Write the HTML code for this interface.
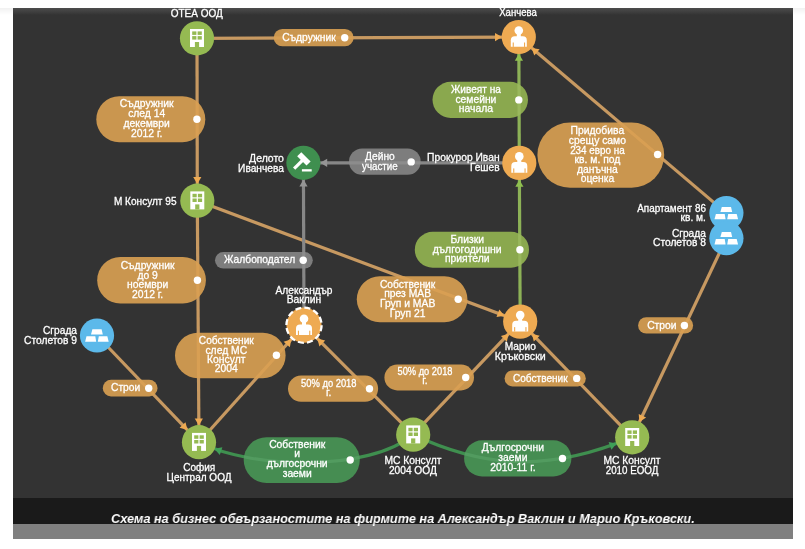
<!DOCTYPE html>
<html><head><meta charset="utf-8"><title>Схема</title>
<style>
html,body{margin:0;padding:0;background:#fff;}
body{width:805px;height:549px;position:relative;overflow:hidden;font-family:"Liberation Sans",sans-serif;}
#dia{position:absolute;left:13px;top:8px;width:780px;height:490px;background:#333333;overflow:hidden;}
#dia:before{content:"";position:absolute;left:0;top:0;right:0;height:7px;background:linear-gradient(#4d4d4d,#333333);}
#cap{position:absolute;left:13px;top:498px;width:780px;height:26px;background:#1a1a1a;}
#bar{position:absolute;left:13px;top:524px;width:780px;height:15px;background:#808080;}
#ct{position:absolute;left:111px;top:511.2px;white-space:nowrap;will-change:transform;color:#fff;font:italic bold 13.7px "Liberation Sans",sans-serif;line-height:16px;transform:scaleX(0.928);transform-origin:0 0;}
svg{position:absolute;left:0;top:0;will-change:transform;}
svg text{font-family:"Liberation Sans",sans-serif;font-size:11px;fill:#fff;stroke:#fff;stroke-width:0.3px;}
.ln{stroke-width:3.2;fill:none;}
#wrap{position:absolute;left:0;top:0;width:805px;height:549px;}
</style></head><body>
<div id="wrap">
<div style="position:absolute;left:0;top:8px;width:805px;height:7px;background:linear-gradient(#f1f1f1,#ffffff);"></div>
<div id="dia"></div>
<div id="cap"></div><div id="bar"></div>
<svg width="805" height="549" viewBox="0 0 805 549">
<defs>
<clipPath id="c"><rect x="13" y="8" width="780" height="490"/></clipPath>
<clipPath id="pc">
<rect x="273.7" y="29.1" width="79.9" height="17.1" rx="8.6"/>
<rect x="96.3" y="96.3" width="109.0" height="45.9" rx="22.9"/>
<rect x="97.2" y="257.1" width="108.7" height="46.3" rx="23.1"/>
<rect x="349.0" y="148.5" width="71.7" height="26.3" rx="13.2"/>
<rect x="215.0" y="252.1" width="97.8" height="16.5" rx="8.3"/>
<rect x="432.5" y="81.8" width="95.5" height="36.1" rx="18.1"/>
<rect x="414.8" y="231.8" width="114.2" height="35.9" rx="17.9"/>
<rect x="537.4" y="122.4" width="126.8" height="65.3" rx="32.6"/>
<rect x="356.8" y="276.3" width="110.6" height="46.0" rx="23.0"/>
<rect x="175.0" y="332.7" width="110.6" height="45.6" rx="22.8"/>
<rect x="288.0" y="375.6" width="90.1" height="26.1" rx="13.0"/>
<rect x="384.4" y="364.6" width="89.6" height="25.8" rx="12.9"/>
<rect x="504.6" y="370.4" width="81.2" height="16.0" rx="8.0"/>
<rect x="638.1" y="317.2" width="55.0" height="16.4" rx="8.2"/>
<rect x="102.8" y="379.8" width="54.7" height="16.7" rx="8.3"/>
<rect x="243.7" y="437.2" width="116.1" height="45.8" rx="22.9"/>
<rect x="464.1" y="440.3" width="107.3" height="36.1" rx="18.0"/>
</clipPath>
</defs>
<g clip-path="url(#c)">
<g class="ln">
<line x1="197.0" y1="38.3" x2="518.8" y2="37.0" stroke="#c79961"/>
<line x1="197.0" y1="38.3" x2="197.3" y2="200.7" stroke="#c79961"/>
<line x1="197.3" y1="200.7" x2="199.0" y2="442.2" stroke="#c79961"/>
<line x1="197.3" y1="200.7" x2="520.2" y2="321.6" stroke="#c79961"/>
<line x1="520.2" y1="321.6" x2="519.3" y2="162.9" stroke="#8db257"/>
<line x1="519.3" y1="162.9" x2="518.8" y2="37.0" stroke="#8db257"/>
<line x1="519.3" y1="162.9" x2="303.4" y2="162.8" stroke="#878787"/>
<line x1="304.0" y1="325.2" x2="303.4" y2="162.8" stroke="#878787"/>
<line x1="726.4" y1="213.1" x2="518.8" y2="37.0" stroke="#c79961"/>
<line x1="726.4" y1="238.2" x2="632.2" y2="437.3" stroke="#c79961"/>
<line x1="97.0" y1="335.5" x2="199.0" y2="442.2" stroke="#c79961"/>
<line x1="199.0" y1="442.2" x2="304.0" y2="325.2" stroke="#c79961"/>
<line x1="413.2" y1="434.7" x2="304.0" y2="325.2" stroke="#c79961"/>
<line x1="413.2" y1="434.7" x2="520.2" y2="321.6" stroke="#c79961"/>
<line x1="632.2" y1="437.3" x2="520.2" y2="321.6" stroke="#c79961"/>
<path d="M413.2,434.7 C368.5,471.9 252.0,469.4 199.0,442.2" stroke="#3f8f4f"/>
<path d="M413.2,434.7 C488.2,469.7 551.4,471.1 632.2,437.3" stroke="#3f8f4f"/>
</g>
<g>
<rect x="273.7" y="29.1" width="79.9" height="17.1" rx="8.6" fill="#ca964f"/>
<rect x="96.3" y="96.3" width="109.0" height="45.9" rx="22.9" fill="#ca964f"/>
<rect x="97.2" y="257.1" width="108.7" height="46.3" rx="23.1" fill="#ca964f"/>
<rect x="349.0" y="148.5" width="71.7" height="26.3" rx="13.2" fill="#7d7d7d"/>
<rect x="215.0" y="252.1" width="97.8" height="16.5" rx="8.3" fill="#7d7d7d"/>
<rect x="432.5" y="81.8" width="95.5" height="36.1" rx="18.1" fill="#8aa84e"/>
<rect x="414.8" y="231.8" width="114.2" height="35.9" rx="17.9" fill="#8aa84e"/>
<rect x="537.4" y="122.4" width="126.8" height="65.3" rx="32.6" fill="#ca964f"/>
<rect x="356.8" y="276.3" width="110.6" height="46.0" rx="23.0" fill="#ca964f"/>
<rect x="175.0" y="332.7" width="110.6" height="45.6" rx="22.8" fill="#ca964f"/>
<rect x="288.0" y="375.6" width="90.1" height="26.1" rx="13.0" fill="#ca964f"/>
<rect x="384.4" y="364.6" width="89.6" height="25.8" rx="12.9" fill="#ca964f"/>
<rect x="504.6" y="370.4" width="81.2" height="16.0" rx="8.0" fill="#ca964f"/>
<rect x="638.1" y="317.2" width="55.0" height="16.4" rx="8.2" fill="#ca964f"/>
<rect x="102.8" y="379.8" width="54.7" height="16.7" rx="8.3" fill="#ca964f"/>
<rect x="243.7" y="437.2" width="116.1" height="45.8" rx="22.9" fill="#468d52"/>
<rect x="464.1" y="440.3" width="107.3" height="36.1" rx="18.0" fill="#468d52"/>
</g>
<g class="ln" clip-path="url(#pc)" opacity="0.6">
<line x1="197.0" y1="38.3" x2="518.8" y2="37.0" stroke="#e2a558"/>
<line x1="197.0" y1="38.3" x2="197.3" y2="200.7" stroke="#e2a558"/>
<line x1="197.3" y1="200.7" x2="199.0" y2="442.2" stroke="#e2a558"/>
<line x1="197.3" y1="200.7" x2="520.2" y2="321.6" stroke="#e2a558"/>
<line x1="520.2" y1="321.6" x2="519.3" y2="162.9" stroke="#a3c268"/>
<line x1="519.3" y1="162.9" x2="518.8" y2="37.0" stroke="#a3c268"/>
<line x1="519.3" y1="162.9" x2="303.4" y2="162.8" stroke="#969696"/>
<line x1="304.0" y1="325.2" x2="303.4" y2="162.8" stroke="#969696"/>
<line x1="726.4" y1="213.1" x2="518.8" y2="37.0" stroke="#e2a558"/>
<line x1="726.4" y1="238.2" x2="632.2" y2="437.3" stroke="#e2a558"/>
<line x1="97.0" y1="335.5" x2="199.0" y2="442.2" stroke="#e2a558"/>
<line x1="199.0" y1="442.2" x2="304.0" y2="325.2" stroke="#e2a558"/>
<line x1="413.2" y1="434.7" x2="304.0" y2="325.2" stroke="#e2a558"/>
<line x1="413.2" y1="434.7" x2="520.2" y2="321.6" stroke="#e2a558"/>
<line x1="632.2" y1="437.3" x2="520.2" y2="321.6" stroke="#e2a558"/>
<path d="M413.2,434.7 C368.5,471.9 252.0,469.4 199.0,442.2" stroke="#5aa56a"/>
<path d="M413.2,434.7 C488.2,469.7 551.4,471.1 632.2,437.3" stroke="#5aa56a"/>
</g>
<g>
<polygon points="502.0,37.1 495.0,41.2 495.0,33.0" fill="#eeaa52"/>
<polygon points="197.3,183.9 193.2,176.9 201.4,176.9" fill="#eeaa52"/>
<polygon points="198.9,425.4 194.7,418.4 202.9,418.4" fill="#eeaa52"/>
<polygon points="504.5,315.7 496.5,317.1 499.3,309.4" fill="#eeaa52"/>
<polygon points="519.4,179.7 523.5,186.7 515.3,186.7" fill="#8fc04f"/>
<polygon points="518.9,53.8 523.0,60.8 514.8,60.8" fill="#8fc04f"/>
<polygon points="320.2,162.8 327.2,158.7 327.2,166.9" fill="#959595"/>
<polygon points="303.5,179.6 307.6,186.6 299.4,186.6" fill="#959595"/>
<polygon points="531.6,47.9 539.6,49.3 534.3,55.5" fill="#eeaa52"/>
<polygon points="639.4,422.1 638.7,414.0 646.1,417.5" fill="#eeaa52"/>
<polygon points="187.4,430.1 179.6,427.8 185.5,422.2" fill="#eeaa52"/>
<polygon points="291.4,339.3 289.8,347.2 283.6,341.7" fill="#eeaa52"/>
<polygon points="317.3,338.6 325.2,340.6 319.4,346.4" fill="#eeaa52"/>
<polygon points="508.7,333.8 506.8,341.7 500.9,336.1" fill="#eeaa52"/>
<polygon points="531.9,333.7 539.7,335.8 533.8,341.6" fill="#eeaa52"/>
<polygon points="214.4,448.8 222.4,447.2 219.8,454.9" fill="#3f9f58"/>
<polygon points="616.6,443.5 611.4,449.7 608.6,442.0" fill="#3f9f58"/>
</g>
<g>
<circle cx="197.0" cy="38.3" r="17.1" fill="#95ba52"/>
<rect x="190.0" y="29.0" width="14" height="18" fill="#fff"/><rect x="192.2" y="31.4" width="4.2" height="3.5" fill="#95ba52"/><rect x="192.2" y="36.1" width="4.2" height="3.5" fill="#95ba52"/><rect x="197.6" y="31.4" width="4.2" height="3.5" fill="#95ba52"/><rect x="197.6" y="36.1" width="4.2" height="3.5" fill="#95ba52"/><rect x="194.9" y="42.0" width="4.2" height="5.1" fill="#95ba52"/>
<circle cx="197.3" cy="200.7" r="17.1" fill="#95ba52"/>
<rect x="190.3" y="191.4" width="14" height="18" fill="#fff"/><rect x="192.5" y="193.8" width="4.2" height="3.5" fill="#95ba52"/><rect x="192.5" y="198.5" width="4.2" height="3.5" fill="#95ba52"/><rect x="197.9" y="193.8" width="4.2" height="3.5" fill="#95ba52"/><rect x="197.9" y="198.5" width="4.2" height="3.5" fill="#95ba52"/><rect x="195.2" y="204.4" width="4.2" height="5.1" fill="#95ba52"/>
<circle cx="199.0" cy="442.2" r="17.1" fill="#95ba52"/>
<rect x="192.0" y="432.9" width="14" height="18" fill="#fff"/><rect x="194.2" y="435.3" width="4.2" height="3.5" fill="#95ba52"/><rect x="194.2" y="440.0" width="4.2" height="3.5" fill="#95ba52"/><rect x="199.6" y="435.3" width="4.2" height="3.5" fill="#95ba52"/><rect x="199.6" y="440.0" width="4.2" height="3.5" fill="#95ba52"/><rect x="196.9" y="445.9" width="4.2" height="5.1" fill="#95ba52"/>
<circle cx="413.2" cy="434.7" r="17.1" fill="#95ba52"/>
<rect x="406.2" y="425.4" width="14" height="18" fill="#fff"/><rect x="408.4" y="427.8" width="4.2" height="3.5" fill="#95ba52"/><rect x="408.4" y="432.5" width="4.2" height="3.5" fill="#95ba52"/><rect x="413.8" y="427.8" width="4.2" height="3.5" fill="#95ba52"/><rect x="413.8" y="432.5" width="4.2" height="3.5" fill="#95ba52"/><rect x="411.1" y="438.4" width="4.2" height="5.1" fill="#95ba52"/>
<circle cx="632.2" cy="437.3" r="17.1" fill="#95ba52"/>
<rect x="625.2" y="428.0" width="14" height="18" fill="#fff"/><rect x="627.4" y="430.4" width="4.2" height="3.5" fill="#95ba52"/><rect x="627.4" y="435.1" width="4.2" height="3.5" fill="#95ba52"/><rect x="632.8" y="430.4" width="4.2" height="3.5" fill="#95ba52"/><rect x="632.8" y="435.1" width="4.2" height="3.5" fill="#95ba52"/><rect x="630.1" y="441.0" width="4.2" height="5.1" fill="#95ba52"/>
<circle cx="518.8" cy="37.0" r="17.1" fill="#eeaa52"/>
<circle cx="518.8" cy="30.5" r="4.3" fill="#fff"/><rect x="516.8" y="33.0" width="4" height="4" fill="#fff"/><path d="M510.8,46.8 v-6.6 q0,-4 4,-4 h8 q4,0 4,4 v6.6 z" fill="#fff"/><rect x="512.7" y="42.5" width="1.1" height="4.4" fill="#eeaa52"/><rect x="524.0" y="42.5" width="1.1" height="4.4" fill="#eeaa52"/>
<circle cx="519.3" cy="162.9" r="17.1" fill="#eeaa52"/>
<circle cx="519.3" cy="156.4" r="4.3" fill="#fff"/><rect x="517.3" y="158.9" width="4" height="4" fill="#fff"/><path d="M511.3,172.7 v-6.6 q0,-4 4,-4 h8 q4,0 4,4 v6.6 z" fill="#fff"/><rect x="513.2" y="168.4" width="1.1" height="4.4" fill="#eeaa52"/><rect x="524.5" y="168.4" width="1.1" height="4.4" fill="#eeaa52"/>
<circle cx="520.2" cy="321.6" r="17.1" fill="#eeaa52"/>
<circle cx="520.2" cy="315.1" r="4.3" fill="#fff"/><rect x="518.2" y="317.6" width="4" height="4" fill="#fff"/><path d="M512.2,331.4 v-6.6 q0,-4 4,-4 h8 q4,0 4,4 v6.6 z" fill="#fff"/><rect x="514.1" y="327.1" width="1.1" height="4.4" fill="#eeaa52"/><rect x="525.4" y="327.1" width="1.1" height="4.4" fill="#eeaa52"/>
<circle cx="304.0" cy="325.2" r="17.6" fill="#eeaa52" stroke="#fff" stroke-width="2.3" stroke-dasharray="6 3.2"/>
<circle cx="304.0" cy="318.7" r="4.3" fill="#fff"/><rect x="302.0" y="321.2" width="4" height="4" fill="#fff"/><path d="M296.0,335.0 v-6.6 q0,-4 4,-4 h8 q4,0 4,4 v6.6 z" fill="#fff"/><rect x="297.9" y="330.7" width="1.1" height="4.4" fill="#eeaa52"/><rect x="309.2" y="330.7" width="1.1" height="4.4" fill="#eeaa52"/>
<circle cx="303.4" cy="162.8" r="17.1" fill="#3f8f4f"/>
<g transform="translate(303.9,158.9) rotate(45)"><rect x="-6.6" y="-2.9" width="13.2" height="5.8" fill="#fff"/><rect x="-1.6" y="2" width="3.2" height="11.8" fill="#fff"/></g><rect x="301.9" y="169.2" width="9.8" height="2.3" fill="#fff"/>
<circle cx="726.4" cy="213.1" r="17.1" fill="#5cb9ea"/>
<polygon points="721.8,206.9 731.0,206.9 732.2,212.0 720.4,212.0" fill="#fff"/><polygon points="715.9,213.9 724.7,213.9 725.6,219.3 714.5,219.3" fill="#fff"/><polygon points="728.2,213.9 736.7,213.9 738.1,219.3 727.2,219.3" fill="#fff"/>
<circle cx="726.4" cy="238.2" r="17.1" fill="#5cb9ea"/>
<polygon points="721.8,232.0 731.0,232.0 732.2,237.1 720.4,237.1" fill="#fff"/><polygon points="715.9,239.0 724.7,239.0 725.6,244.4 714.5,244.4" fill="#fff"/><polygon points="728.2,239.0 736.7,239.0 738.1,244.4 727.2,244.4" fill="#fff"/>
<circle cx="97.0" cy="335.5" r="17.1" fill="#5cb9ea"/>
<polygon points="92.4,329.3 101.6,329.3 102.8,334.4 91.0,334.4" fill="#fff"/><polygon points="86.5,336.3 95.3,336.3 96.2,341.7 85.1,341.7" fill="#fff"/><polygon points="98.8,336.3 107.3,336.3 108.7,341.7 97.8,341.7" fill="#fff"/>
</g>
<g>
<text x="309.0" y="40.7" text-anchor="middle" textLength="53.5" lengthAdjust="spacingAndGlyphs">Съдружник</text>
<circle cx="344.7" cy="37.8" r="3.7" fill="#fff"/>
<text x="146.7" y="107.4" text-anchor="middle" textLength="53.9" lengthAdjust="spacingAndGlyphs">Съдружник</text>
<text x="146.7" y="117.4" text-anchor="middle" textLength="37.1" lengthAdjust="spacingAndGlyphs">след 14</text>
<text x="146.7" y="127.3" text-anchor="middle" textLength="46.3" lengthAdjust="spacingAndGlyphs">декември</text>
<text x="146.7" y="136.9" text-anchor="middle" textLength="31.3" lengthAdjust="spacingAndGlyphs">2012 г.</text>
<circle cx="196.9" cy="119.3" r="3.7" fill="#fff"/>
<text x="147.6" y="268.8" text-anchor="middle" textLength="53.9" lengthAdjust="spacingAndGlyphs">Съдружник</text>
<text x="147.6" y="278.6" text-anchor="middle" textLength="20.4" lengthAdjust="spacingAndGlyphs">до 9</text>
<text x="147.6" y="288.2" text-anchor="middle" textLength="41.3" lengthAdjust="spacingAndGlyphs">ноември</text>
<text x="147.6" y="297.5" text-anchor="middle" textLength="31.3" lengthAdjust="spacingAndGlyphs">2012 г.</text>
<circle cx="197.4" cy="280.3" r="3.7" fill="#fff"/>
<text x="379.9" y="160.0" text-anchor="middle" textLength="29.7" lengthAdjust="spacingAndGlyphs">Дейно</text>
<text x="379.9" y="169.8" text-anchor="middle" textLength="35.8" lengthAdjust="spacingAndGlyphs">участие</text>
<circle cx="411.2" cy="161.9" r="3.7" fill="#fff"/>
<text x="259.6" y="263.4" text-anchor="middle" textLength="71.1" lengthAdjust="spacingAndGlyphs">Жалбоподател</text>
<circle cx="303.2" cy="260.2" r="3.7" fill="#fff"/>
<text x="475.9" y="93.0" text-anchor="middle" textLength="49.9" lengthAdjust="spacingAndGlyphs">Живеят на</text>
<text x="475.9" y="102.6" text-anchor="middle" textLength="41.0" lengthAdjust="spacingAndGlyphs">семейни</text>
<text x="475.9" y="112.2" text-anchor="middle" textLength="34.2" lengthAdjust="spacingAndGlyphs">начала</text>
<circle cx="518.8" cy="99.9" r="3.7" fill="#fff"/>
<text x="467.2" y="242.6" text-anchor="middle" textLength="33.5" lengthAdjust="spacingAndGlyphs">Близки</text>
<text x="467.2" y="252.6" text-anchor="middle" textLength="69.0" lengthAdjust="spacingAndGlyphs">дългогодишни</text>
<text x="467.2" y="262.3" text-anchor="middle" textLength="44.6" lengthAdjust="spacingAndGlyphs">приятели</text>
<circle cx="519.9" cy="249.8" r="3.7" fill="#fff"/>
<text x="597.4" y="134.3" text-anchor="middle" textLength="53.6" lengthAdjust="spacingAndGlyphs">Придобива</text>
<text x="597.4" y="143.9" text-anchor="middle" textLength="57.1" lengthAdjust="spacingAndGlyphs">срещу само</text>
<text x="597.4" y="153.5" text-anchor="middle" textLength="54.5" lengthAdjust="spacingAndGlyphs">234 евро на</text>
<text x="597.4" y="163.1" text-anchor="middle" textLength="45.8" lengthAdjust="spacingAndGlyphs">кв. м. под</text>
<text x="597.4" y="172.7" text-anchor="middle" textLength="40.8" lengthAdjust="spacingAndGlyphs">данъчна</text>
<text x="597.4" y="182.2" text-anchor="middle" textLength="33.5" lengthAdjust="spacingAndGlyphs">оценка</text>
<circle cx="657.6" cy="154.5" r="3.7" fill="#fff"/>
<text x="407.6" y="287.8" text-anchor="middle" textLength="55.4" lengthAdjust="spacingAndGlyphs">Собственик</text>
<text x="407.6" y="297.4" text-anchor="middle" textLength="46.9" lengthAdjust="spacingAndGlyphs">през МАВ</text>
<text x="407.6" y="307.0" text-anchor="middle" textLength="55.4" lengthAdjust="spacingAndGlyphs">Груп и МАВ</text>
<text x="407.6" y="316.5" text-anchor="middle" textLength="35.8" lengthAdjust="spacingAndGlyphs">Груп 21</text>
<circle cx="458.2" cy="299.3" r="3.7" fill="#fff"/>
<text x="226.3" y="343.9" text-anchor="middle" textLength="54.9" lengthAdjust="spacingAndGlyphs">Собственик</text>
<text x="226.3" y="353.5" text-anchor="middle" textLength="41.7" lengthAdjust="spacingAndGlyphs">след МС</text>
<text x="226.3" y="363.0" text-anchor="middle" textLength="38.4" lengthAdjust="spacingAndGlyphs">Консулт</text>
<text x="226.3" y="372.2" text-anchor="middle" textLength="23.0" lengthAdjust="spacingAndGlyphs">2004</text>
<circle cx="276.4" cy="355.3" r="3.7" fill="#fff"/>
<text x="328.8" y="387.1" text-anchor="middle" textLength="55.5" lengthAdjust="spacingAndGlyphs">50% до 2018</text>
<text x="328.8" y="396.2" text-anchor="middle" textLength="5.4" lengthAdjust="spacingAndGlyphs">г.</text>
<circle cx="369.5" cy="388.7" r="3.7" fill="#fff"/>
<text x="425.0" y="375.4" text-anchor="middle" textLength="55.0" lengthAdjust="spacingAndGlyphs">50% до 2018</text>
<text x="425.0" y="384.4" text-anchor="middle" textLength="5.4" lengthAdjust="spacingAndGlyphs">г.</text>
<circle cx="465.7" cy="377.5" r="3.7" fill="#fff"/>
<text x="540.3" y="381.5" text-anchor="middle" textLength="54.6" lengthAdjust="spacingAndGlyphs">Собственик</text>
<circle cx="576.7" cy="378.4" r="3.7" fill="#fff"/>
<text x="661.8" y="328.5" text-anchor="middle" textLength="29.3" lengthAdjust="spacingAndGlyphs">Строи</text>
<circle cx="684.4" cy="325.5" r="3.7" fill="#fff"/>
<text x="125.6" y="391.1" text-anchor="middle" textLength="29.2" lengthAdjust="spacingAndGlyphs">Строи</text>
<circle cx="148.7" cy="388.3" r="3.7" fill="#fff"/>
<text x="297.2" y="447.8" text-anchor="middle" textLength="56.1" lengthAdjust="spacingAndGlyphs">Собственик</text>
<text x="297.2" y="457.4" text-anchor="middle" textLength="5.8" lengthAdjust="spacingAndGlyphs">и</text>
<text x="297.2" y="467.0" text-anchor="middle" textLength="60.9" lengthAdjust="spacingAndGlyphs">дългосрочни</text>
<text x="297.2" y="476.8" text-anchor="middle" textLength="29.1" lengthAdjust="spacingAndGlyphs">заеми</text>
<circle cx="350.2" cy="460.0" r="3.7" fill="#fff"/>
<text x="512.9" y="451.0" text-anchor="middle" textLength="62.1" lengthAdjust="spacingAndGlyphs">Дългосрочни</text>
<text x="512.9" y="460.9" text-anchor="middle" textLength="29.1" lengthAdjust="spacingAndGlyphs">заеми</text>
<text x="512.9" y="470.8" text-anchor="middle" textLength="45.4" lengthAdjust="spacingAndGlyphs">2010-11 г.</text>
<circle cx="562.5" cy="458.5" r="3.7" fill="#fff"/>
</g>
<g>
<text x="196.8" y="17.4" text-anchor="middle" textLength="52.2" lengthAdjust="spacingAndGlyphs">ОТЕА ООД</text>
<text x="518.0" y="15.8" text-anchor="middle" textLength="37.7" lengthAdjust="spacingAndGlyphs">Ханчева</text>
<text x="283.9" y="161.8" text-anchor="end" textLength="34.8" lengthAdjust="spacingAndGlyphs">Делото</text>
<text x="283.9" y="171.8" text-anchor="end" textLength="45.8" lengthAdjust="spacingAndGlyphs">Иванчева</text>
<text x="499.6" y="161.2" text-anchor="end" textLength="72.5" lengthAdjust="spacingAndGlyphs">Прокурор Иван</text>
<text x="499.6" y="171.0" text-anchor="end" textLength="29.7" lengthAdjust="spacingAndGlyphs">Гешев</text>
<text x="176.5" y="204.8" text-anchor="end" textLength="62.6" lengthAdjust="spacingAndGlyphs">М Консулт 95</text>
<text x="705.9" y="212.0" text-anchor="end" textLength="68.7" lengthAdjust="spacingAndGlyphs">Апартамент 86</text>
<text x="705.9" y="221.4" text-anchor="end" textLength="25.3" lengthAdjust="spacingAndGlyphs">кв. м.</text>
<text x="705.9" y="236.7" text-anchor="end" textLength="34.0" lengthAdjust="spacingAndGlyphs">Сграда</text>
<text x="705.9" y="246.2" text-anchor="end" textLength="52.9" lengthAdjust="spacingAndGlyphs">Столетов 8</text>
<text x="304.0" y="293.5" text-anchor="middle" textLength="56.9" lengthAdjust="spacingAndGlyphs">Александър</text>
<text x="304.0" y="303.2" text-anchor="middle" textLength="34.6" lengthAdjust="spacingAndGlyphs">Ваклин</text>
<text x="520.3" y="350.4" text-anchor="middle" textLength="31.2" lengthAdjust="spacingAndGlyphs">Марио</text>
<text x="520.3" y="360.2" text-anchor="middle" textLength="51.0" lengthAdjust="spacingAndGlyphs">Кръковски</text>
<text x="77.0" y="333.7" text-anchor="end" textLength="34.0" lengthAdjust="spacingAndGlyphs">Сграда</text>
<text x="77.0" y="343.6" text-anchor="end" textLength="52.9" lengthAdjust="spacingAndGlyphs">Столетов 9</text>
<text x="199.2" y="470.8" text-anchor="middle" textLength="32.1" lengthAdjust="spacingAndGlyphs">София</text>
<text x="199.0" y="480.7" text-anchor="middle" textLength="65.0" lengthAdjust="spacingAndGlyphs">Централ ООД</text>
<text x="412.9" y="463.6" text-anchor="middle" textLength="57.0" lengthAdjust="spacingAndGlyphs">МС Консулт</text>
<text x="412.9" y="473.5" text-anchor="middle" textLength="48.0" lengthAdjust="spacingAndGlyphs">2004 ООД</text>
<text x="632.0" y="464.1" text-anchor="middle" textLength="57.0" lengthAdjust="spacingAndGlyphs">МС Консулт</text>
<text x="632.0" y="473.5" text-anchor="middle" textLength="52.6" lengthAdjust="spacingAndGlyphs">2010 ЕООД</text>
</g>
</g>
</svg>
<div id="ct">Схема на бизнес обвързаностите на фирмите на Александър Ваклин и Марио Кръковски.</div>
</div>
</body></html>
